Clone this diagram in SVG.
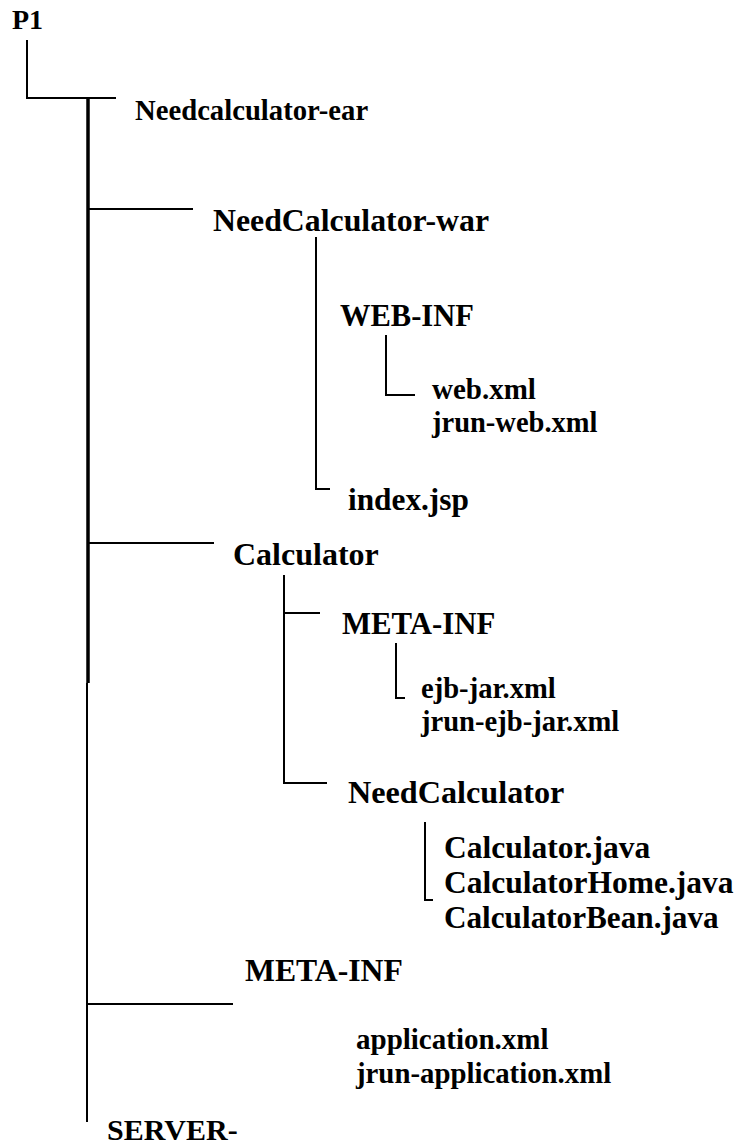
<svg xmlns="http://www.w3.org/2000/svg" width="753" height="1146" viewBox="0 0 753 1146">
<style>
.ln{stroke:#000;stroke-width:2;fill:none}
.thick{stroke:#000;stroke-width:3.5;fill:none}
.t{font-family:"Liberation Serif","DejaVu Serif",serif;font-weight:bold;fill:#000}
</style>
<rect width="753" height="1146" fill="#fff"/>
<g id="connectors">
<path class="ln" d="M27,40 V98 H116"/>
<path class="thick" d="M88,98 V683"/>
<path class="ln" d="M87,683 V1122"/>
<path class="ln" d="M88,209 H193"/>
<path class="ln" d="M88,543 H214"/>
<path class="ln" d="M87,1004 H233"/>
<path class="ln" d="M316,237 V489 H330"/>
<path class="ln" d="M386,335 V395 H415"/>
<path class="ln" d="M284,575 V783 H327"/>
<path class="ln" d="M284,613 H320"/>
<path class="ln" d="M396,643 V698 H405"/>
<path class="ln" d="M425,822 V900 H433"/>
</g>
<g id="n-p1"><text class="t" font-size="28" x="12" y="29">P1</text></g>
<g id="n-ear"><text class="t" font-size="28.7" x="135" y="120">Needcalculator-ear</text></g>
<g id="n-war"><text class="t" font-size="31.8" x="213" y="231">NeedCalculator-war</text></g>
<g id="n-webinf"><text class="t" font-size="30.5" x="340" y="326">WEB-INF</text></g>
<g id="n-webfiles"><text class="t" font-size="29" x="432" y="399">web.xml</text><text class="t" font-size="28.5" x="432" y="432">jrun-web.xml</text></g>
<g id="n-index"><text class="t" font-size="31.3" x="348" y="510">index.jsp</text></g>
<g id="n-calc"><text class="t" font-size="32" x="233" y="565">Calculator</text></g>
<g id="n-metainf1"><text class="t" font-size="30.8" x="342" y="634">META-INF</text></g>
<g id="n-ejbfiles"><text class="t" font-size="28.6" x="421" y="698">ejb-jar.xml</text><text class="t" font-size="28.6" x="421" y="731">jrun-ejb-jar.xml</text></g>
<g id="n-needcalc"><text class="t" font-size="32.2" x="348" y="803">NeedCalculator</text></g>
<g id="n-java"><text class="t" font-size="31.5" x="444" y="858">Calculator.java</text><text class="t" font-size="31.5" x="444" y="893">CalculatorHome.java</text><text class="t" font-size="31.2" x="444" y="928">CalculatorBean.java</text></g>
<g id="n-metainf2"><text class="t" font-size="31.7" x="245" y="981">META-INF</text></g>
<g id="n-appfiles"><text class="t" font-size="29" x="356" y="1049">application.xml</text><text class="t" font-size="28.8" x="356" y="1083">jrun-application.xml</text></g>
<g id="n-server"><text class="t" font-size="30" x="107" y="1140">SERVER-</text></g>
</svg>
